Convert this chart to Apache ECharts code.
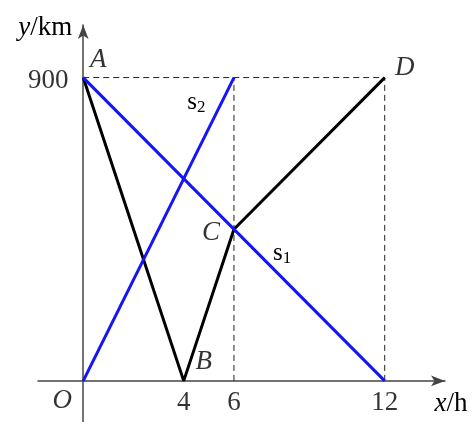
<!DOCTYPE html>
<html>
<head>
<meta charset="utf-8">
<script src="https://cdn.jsdelivr.net/npm/echarts@6/dist/echarts.min.js"></script>
<style>
  html, body { margin: 0; padding: 0; background: #fff; }
  #chart { width: 474px; height: 422px; }
</style>
</head>
<body>
<div id="chart"></div>
<script>
// tick labels
const xTicks = [4, 6, 12];
const yTicks = [900];
// lines (x in h, y in km)
const s1Line = [[0, 900], [12, 0]];
const s2Line = [[0, 0], [6, 900]];
const carLine = [[0, 900], [4, 0], [6, 450], [12, 900]]; // A -> B -> C -> D
const guideTop = [[0, 900], [12, 900]];
const guideSix = [[6, 0], [6, 900]];
const guideTwelve = [[12, 0], [12, 900]];
// named points
const pointNames = ["O", "A", "B", "C", "D"];
const pointValues = [[0, 0], [0, 900], [4, 0], [6, 450], [12, 900]];
// line names
const lineNames = ["s", "s"];
const lineSubs = ["1", "2"];

const font = "Liberation Serif";
const blue = "#1414f5";
const fs = 27;

// where each point label sits relative to its point (px)
const pointOffsets = {
  O: [-21, 20],
  A: [15, -18],
  B: [20, -19],
  C: [-23, 4],
  D: [20, -10],
};

const chart = echarts.init(document.getElementById("chart"));

const dashed = (data) => ({
  type: "line",
  data: data,
  symbol: "none",
  silent: true,
  lineStyle: { color: "#222", width: 1, type: [6, 4] },
  z: 1,
});

const lineLabel = (i) => ({
  show: true,
  formatter: "{s|" + lineNames[i] + "}{b|" + lineSubs[i] + "}",
  rich: {
    s: { fontFamily: font, fontSize: 25, color: "#000" },
    b: { fontFamily: font, fontSize: 17, color: "#000", padding: [9, 0, 0, 0] },
  },
});

const axisLine = {
  onZero: true,
  symbol: ["none", "arrow"],
  symbolSize: [8, 14],
  lineStyle: { color: "#444", width: 1.5 },
};

chart.setOption({
  animation: false,
  backgroundColor: "#fff",
  grid: { left: 38, right: 29, top: 25, bottom: 0, outerBoundsMode: "none", containLabel: false },
  xAxis: {
    type: "value",
    min: -1.8,
    max: 14.4,
    name: "{i|x}/h",
    nameLocation: "end",
    nameGap: 6,
    nameTextStyle: {
      fontFamily: font,
      fontSize: fs,
      color: "#000",
      align: "center",
      verticalAlign: "top",
      padding: [10, 0, 0, 0],
      rich: { i: { fontStyle: "italic", fontFamily: font, fontSize: fs } },
    },
    axisLine: axisLine,
    axisTick: { show: false },
    splitLine: { show: false },
    axisLabel: { show: false },
  },
  yAxis: {
    type: "value",
    min: -122,
    max: 1056,
    name: "{i|y}/km",
    nameLocation: "end",
    nameGap: -3,
    nameTextStyle: {
      fontFamily: font,
      fontSize: fs,
      color: "#000",
      align: "right",
      verticalAlign: "middle",
      padding: [0, 11, 0, 0],
      rich: { i: { fontStyle: "italic", fontFamily: font, fontSize: fs } },
    },
    axisLine: axisLine,
    axisTick: { show: false },
    splitLine: { show: false },
    axisLabel: { show: false },
  },
  series: [
    dashed(guideTop),
    dashed(guideSix),
    dashed(guideTwelve),
    {
      type: "line",
      data: carLine,
      symbol: "none",
      lineStyle: { color: "#000", width: 3 },
      z: 2,
    },
    {
      type: "line",
      data: s1Line,
      symbol: "none",
      lineStyle: { color: blue, width: 3 },
      z: 3,
      markPoint: {
        symbol: "circle",
        symbolSize: 0,
        data: [{ coord: [7.92, 377] }],
        label: lineLabel(0),
      },
    },
    {
      type: "line",
      data: s2Line,
      symbol: "none",
      lineStyle: { color: blue, width: 3 },
      z: 3,
      markPoint: {
        symbol: "circle",
        symbolSize: 0,
        data: [{ coord: [4.5, 825] }],
        label: lineLabel(1),
      },
    },
    {
      // x tick labels
      type: "scatter",
      symbolSize: 0,
      silent: true,
      data: xTicks.map((v) => [v, 0]),
      label: {
        show: true,
        position: "inside",
        offset: [0, 22],
        formatter: (p) => String(p.value[0]),
        fontFamily: font,
        fontSize: fs,
        color: "#000",
      },
    },
    {
      // y tick labels
      type: "scatter",
      symbolSize: 0,
      silent: true,
      data: yTicks.map((v) => [0, v]),
      label: {
        show: true,
        position: "inside",
        offset: [-35, 3],
        formatter: (p) => String(p.value[1]),
        fontFamily: font,
        fontSize: fs,
        color: "#000",
      },
    },
    {
      type: "scatter",
      symbolSize: 0,
      silent: true,
      z: 4,
      data: pointNames.map((n, i) => ({
        name: n,
        value: pointValues[i],
        label: { offset: pointOffsets[n] },
      })),
      label: {
        show: true,
        position: "inside",
        formatter: "{b}",
        fontFamily: font,
        fontStyle: "italic",
        fontSize: fs,
        color: "#000",
      },
    },
  ],
});
</script>
</body>
</html>
